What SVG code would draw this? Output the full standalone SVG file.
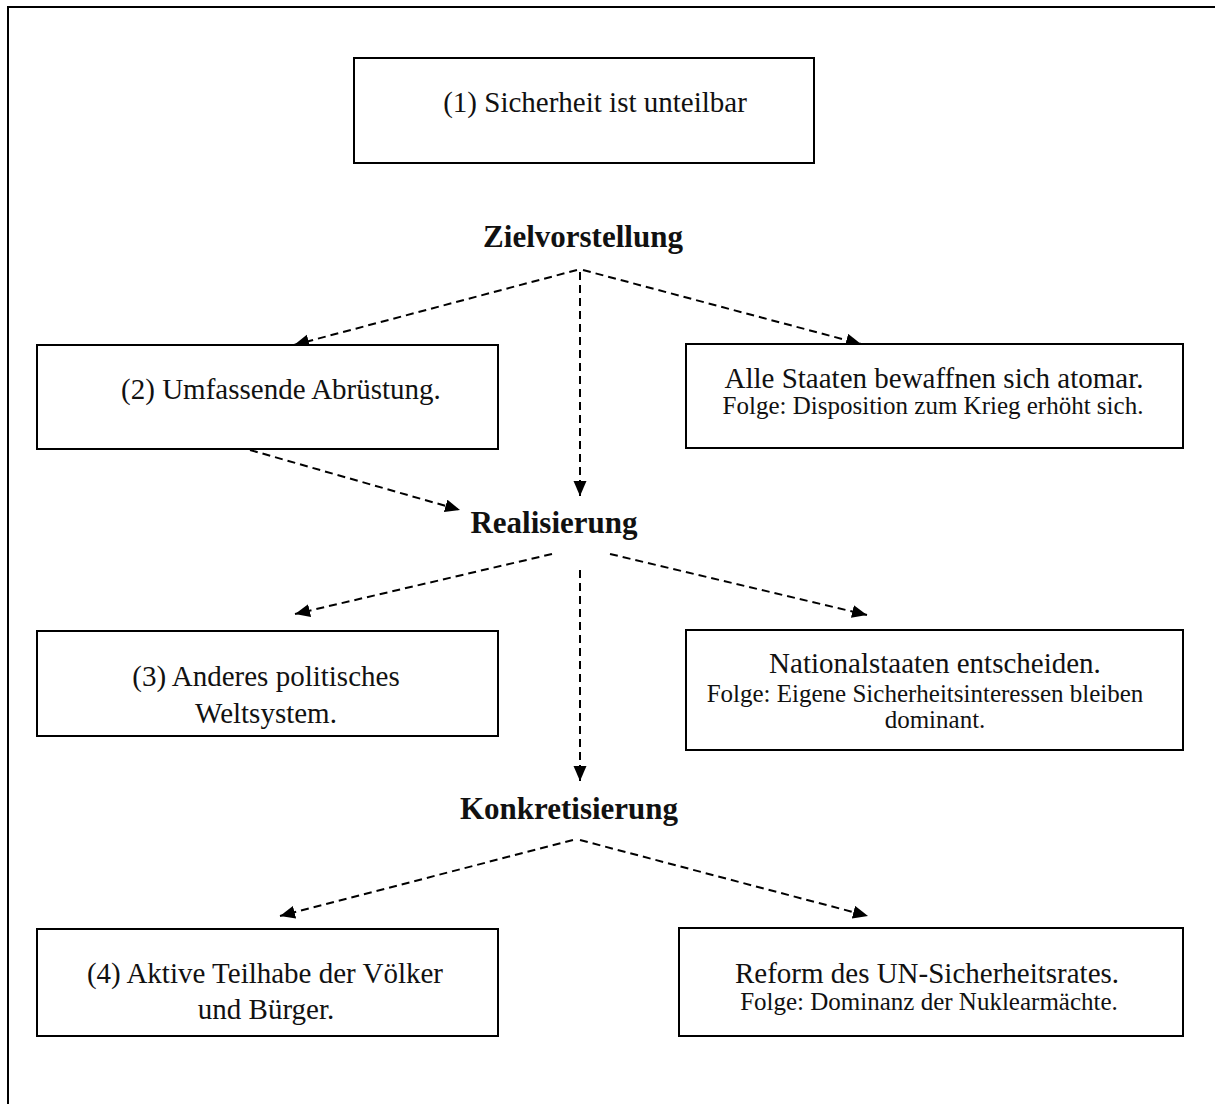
<svg xmlns="http://www.w3.org/2000/svg" width="1215" height="1104" viewBox="0 0 1215 1104">
<defs>
<style>
.box{fill:#fff;stroke:#000;stroke-width:2}
.t{font-family:"Liberation Serif","Times New Roman",serif;fill:#111;text-anchor:middle}
.m{font-size:29px}
.f{font-size:25px}
.h{font-size:31px;font-weight:bold}
.c{stroke:#000;stroke-width:2;stroke-dasharray:8 5;fill:none}
</style>
<marker id="ah" markerUnits="userSpaceOnUse" markerWidth="16" markerHeight="14" refX="15" refY="6.5" orient="auto">
<path d="M0,0 L15,6.5 L0,13 z" fill="#000"/>
</marker>
</defs>
<rect width="1215" height="1104" fill="#fff"/>
<path d="M8,1104 V7 H1215" fill="none" stroke="#000" stroke-width="2"/>

<g id="connectors">
<line class="c" x1="577" y1="270" x2="294" y2="345" marker-end="url(#ah)"/>
<line class="c" x1="580" y1="272" x2="580" y2="496" marker-end="url(#ah)"/>
<line class="c" x1="583" y1="270" x2="861" y2="344" marker-end="url(#ah)"/>
<line class="c" x1="250" y1="450" x2="460" y2="510" marker-end="url(#ah)"/>
<line class="c" x1="552" y1="554" x2="295" y2="614" marker-end="url(#ah)"/>
<line class="c" x1="610" y1="554" x2="867" y2="615" marker-end="url(#ah)"/>
<line class="c" x1="580" y1="570" x2="580" y2="781" marker-end="url(#ah)"/>
<line class="c" x1="573" y1="840" x2="280" y2="916" marker-end="url(#ah)"/>
<line class="c" x1="580" y1="840" x2="868" y2="916" marker-end="url(#ah)"/>
</g>

<g id="n1">
<rect class="box" x="354" y="58" width="460" height="105"/>
<text class="t m" x="595" y="112">(1) Sicherheit ist unteilbar</text>
</g>

<g id="h1">
<text class="t h" x="583" y="247">Zielvorstellung</text>
</g>

<g id="n2">
<rect class="box" x="37" y="345" width="461" height="104"/>
<text class="t m" x="281" y="399">(2) Umfassende Abrüstung.</text>
</g>

<g id="n2b">
<rect class="box" x="686" y="344" width="497" height="104"/>
<text class="t m" x="934" y="388">Alle Staaten bewaffnen sich atomar.</text>
<text class="t f" x="933" y="414">Folge: Disposition zum Krieg erhöht sich.</text>
</g>

<g id="h2">
<text class="t h" x="554" y="533">Realisierung</text>
</g>

<g id="n3">
<rect class="box" x="37" y="631" width="461" height="105"/>
<text class="t m" x="266" y="686">(3) Anderes politisches</text>
<text class="t m" x="266" y="723">Weltsystem.</text>
</g>

<g id="n3b">
<rect class="box" x="686" y="630" width="497" height="120"/>
<text class="t m" x="935" y="673">Nationalstaaten entscheiden.</text>
<text class="t f" x="925" y="702">Folge: Eigene Sicherheitsinteressen bleiben</text>
<text class="t f" x="935" y="728">dominant.</text>
</g>

<g id="h3">
<text class="t h" x="569" y="819">Konkretisierung</text>
</g>

<g id="n4">
<rect class="box" x="37" y="929" width="461" height="107"/>
<text class="t m" x="265" y="983">(4) Aktive Teilhabe der Völker</text>
<text class="t m" x="266" y="1019">und Bürger.</text>
</g>

<g id="n4b">
<rect class="box" x="679" y="928" width="504" height="108"/>
<text class="t m" x="927" y="983">Reform des UN-Sicherheitsrates.</text>
<text class="t f" x="929" y="1010">Folge: Dominanz der Nuklearmächte.</text>
</g>
</svg>
